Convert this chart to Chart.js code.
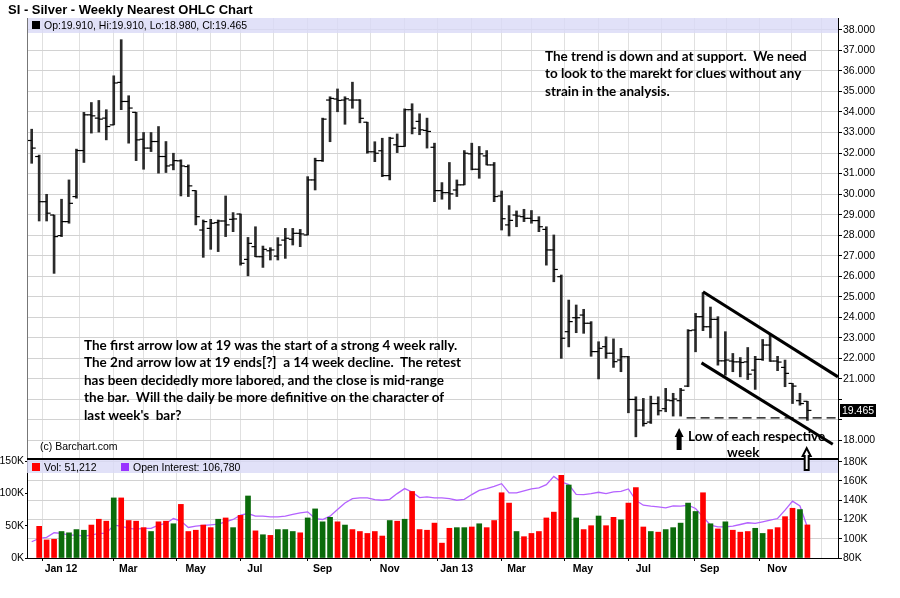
<!DOCTYPE html>
<html>
<head>
<meta charset="utf-8">
<title>SI - Silver - Weekly Nearest OHLC Chart</title>
<script src="https://cdn.jsdelivr.net/npm/chart.js@4.4.0/dist/chart.umd.min.js"></script>
<style>
  body { margin: 0; background: #fff; width: 900px; height: 598px; overflow: hidden; position: relative;
         font-family: "Liberation Sans", Arial, sans-serif; color: #000; }
  canvas { position: absolute; left: 0; top: 0; }
  #priceChart { z-index: 2; }
  #volChart { z-index: 1; }
  .t { position: absolute; z-index: 3; white-space: pre; }
  .small { font-size: 10.5px; line-height: 12px; }
  .note { font-family: Lato, "Open Sans", sans-serif; font-weight: bold; font-size: 13.5px; line-height: 17.4px; }
  .sq { position: absolute; z-index: 3; width: 8px; height: 8px; }
</style>
</head>
<body>
<canvas id="volChart" width="900" height="598"></canvas>
<canvas id="priceChart" width="900" height="598"></canvas>

<div class="t" style="left:8px; top:2px; font-weight:bold; font-size:13px;">SI - Silver - Weekly Nearest OHLC Chart</div>
<div class="sq" style="left:32px; top:21px; background:#000;"></div>
<div class="t small" style="left:44px; top:19px;">Op:19.910, Hi:19.910, Lo:18.980, Cl:19.465</div>

<div class="t note" style="left:545px; top:48px;">The trend is down and at support.  We need
to look to the marekt for clues without any
strain in the analysis.</div>

<div class="t note" style="left:84px; top:337px;">The first arrow low at 19 was the start of a strong 4 week rally.
The 2nd arrow low at 19 ends[?]  a 14 week decline.  The retest
has been decidedly more labored, and the close is mid-range
the bar.  Will the daily be more definitive on the character of
last week's  bar?</div>

<div class="t small" style="left:40px; top:440px;">(c) Barchart.com</div>

<div class="t note" style="left:688px; top:428px;">Low of each respective</div>
<div class="t note" style="left:727px; top:444px;">week</div>

<div class="sq" style="left:32px; top:463px; background:#ff0000;"></div>
<div class="t small" style="left:44px; top:461px;">Vol: 51,212</div>
<div class="sq" style="left:121px; top:463px; background:#9933ff;"></div>
<div class="t small" style="left:133px; top:461px;">Open Interest: 106,780</div>

<script>
// weekly bars, Dec 2011 .. Nov 2013 (one value per week)
const opens = [
  32.61, 31.83, 29.63, 28.98, 27.98, 28.66, 29.88, 32.12, 33.86, 33.70,
  33.70, 33.37, 35.44, 34.51, 33.98, 32.67, 32.24, 32.56, 31.83, 31.42,
  31.62, 31.34, 30.17, 28.25, 28.33, 28.61, 28.69, 28.77, 29.03, 26.82,
  27.44, 26.95, 27.24, 26.98, 27.76, 27.80, 28.09, 28.01, 30.69, 31.63,
  34.58, 34.63, 34.58, 34.58, 34.58, 33.50, 32.06, 32.11, 30.90, 32.40,
  32.32, 34.11, 33.54, 33.10, 32.28, 30.17, 30.07, 30.20, 30.45, 31.96,
  31.21, 31.86, 31.42, 29.91, 28.50, 28.98, 28.90, 28.82, 28.71, 28.28,
  27.28, 25.98, 23.30, 23.98, 24.11, 23.71, 22.33, 22.57, 22.25, 21.92,
  22.08, 20.00, 19.48, 18.90, 19.80, 19.55, 19.94, 19.94, 20.65, 23.38,
  24.03, 23.54, 23.90, 21.88, 21.87, 21.83, 21.83, 21.43, 21.95, 22.65,
  21.87, 21.56, 20.78, 19.94, 19.91
];
const highs = [
  33.16, 31.90, 29.99, 28.98, 29.75, 30.69, 32.19, 33.98, 34.46, 34.56,
  34.11, 35.76, 37.52, 34.79, 33.98, 33.00, 33.00, 33.29, 32.56, 31.99,
  31.67, 31.42, 30.17, 28.74, 28.77, 28.74, 29.91, 29.10, 29.03, 27.89,
  28.41, 27.47, 27.39, 27.88, 28.33, 28.33, 28.28, 30.85, 31.75, 33.70,
  34.74, 35.12, 34.74, 35.45, 34.60, 33.50, 32.55, 32.72, 32.77, 32.93,
  34.15, 34.40, 33.91, 33.70, 32.48, 30.56, 31.54, 30.69, 32.12, 32.48,
  32.32, 32.12, 31.54, 30.15, 29.44, 29.18, 29.26, 29.20, 28.90, 28.41,
  28.01, 26.06, 24.84, 24.60, 24.39, 23.79, 22.81, 23.05, 22.95, 22.49,
  22.10, 20.13, 20.05, 20.16, 20.13, 20.54, 20.30, 20.54, 23.40, 24.19,
  25.20, 24.50, 24.03, 23.30, 22.24, 22.04, 22.53, 22.10, 22.92, 23.13,
  22.10, 21.92, 20.78, 20.30, 19.91
];
const lows = [
  31.50, 28.69, 28.69, 26.14, 27.93, 28.58, 29.80, 31.54, 32.97, 33.02,
  32.64, 33.37, 34.11, 32.48, 31.63, 31.21, 32.07, 31.02, 31.05, 31.18,
  29.91, 29.88, 28.50, 26.92, 27.31, 27.20, 27.93, 28.17, 26.54, 26.02,
  26.95, 26.43, 26.79, 26.79, 26.87, 27.52, 27.44, 28.01, 30.20, 31.59,
  32.55, 34.01, 33.40, 34.18, 33.47, 31.99, 31.58, 30.85, 30.69, 32.02,
  32.32, 32.93, 32.89, 32.24, 29.63, 29.75, 29.26, 29.88, 30.45, 31.18,
  30.77, 31.42, 29.63, 28.25, 27.96, 28.41, 28.66, 28.58, 28.17, 26.54,
  25.73, 22.00, 22.56, 23.25, 23.22, 22.10, 21.00, 22.00, 21.56, 21.35,
  19.35, 18.18, 18.70, 18.83, 19.24, 19.40, 19.19, 19.19, 20.62, 22.32,
  23.35, 23.00, 21.67, 21.18, 21.35, 21.10, 20.97, 20.49, 21.90, 21.85,
  21.40, 20.62, 19.80, 19.72, 18.98
];
const closes = [
  32.24, 29.63, 29.07, 27.93, 28.66, 29.55, 32.12, 33.86, 33.81, 33.65,
  33.29, 35.41, 34.51, 34.19, 32.64, 32.24, 32.56, 31.83, 31.37, 31.63,
  31.37, 30.40, 28.90, 28.66, 28.58, 28.69, 28.50, 28.79, 26.63, 27.60,
  26.95, 27.31, 27.28, 27.52, 27.85, 28.09, 28.06, 30.69, 31.63, 33.65,
  34.66, 34.56, 34.64, 34.58, 33.69, 32.06, 31.99, 30.90, 32.72, 32.32,
  34.11, 33.21, 33.13, 33.05, 30.17, 30.07, 30.01, 30.45, 31.99, 31.21,
  31.96, 31.42, 29.88, 28.80, 28.72, 28.93, 28.82, 28.71, 28.41, 27.28,
  26.33, 22.98, 23.79, 23.98, 23.71, 22.33, 22.49, 22.25, 21.84, 22.08,
  20.00, 19.48, 18.83, 19.80, 19.45, 19.97, 20.02, 20.45, 23.35, 24.03,
  23.54, 23.90, 21.88, 21.92, 21.83, 21.80, 21.23, 21.95, 22.65, 21.87,
  21.82, 21.27, 20.65, 19.80, 19.465
];
// volume (thousands), first week has none
const volume = [
  null, 49, 28, 29, 41, 39, 44, 43, 51, 60,
  57, 93, 93, 58, 57, 47, 41, 56, 57, 53,
  83, 41, 43, 51, 47, 60, 62, 47, 66, 96,
  42, 36, 35, 44, 44, 41, 39, 62, 76, 56,
  63, 56, 51, 44, 41, 38, 41, 34, 58, 57,
  60, 103, 44, 43, 54, 23, 46, 47, 47, 48,
  53, 47, 58, 101, 85, 41, 33, 38, 41, 62,
  71, 128, 113, 62, 44, 50, 65, 50, 63, 59,
  85, 109, 48, 41, 40, 44, 47, 54, 85, 72,
  101, 53, 45, 56, 43, 40, 41, 46, 38, 44,
  47, 64, 77, 75, 51.2
];
// U = green volume bar, D = red volume bar
const volDir = (
  '-DDDUUUUDD' + 'DUDDDDUDDU' + 'DDDDDUDUDU' + 'DUDUUUDUUU' + 'UDUDDDDDUD' +
  'UDDDDDDUUD' + 'UDDDDUDDDD' + 'DDUUDDUDDU' + 'DDDUDUUUUU' + 'DUDUDDDUUD' +
  'DDDUD'
).split('');
// open interest (thousands)
const openInterest = [
  96.9, 100.3, 101.4, 106.2, 105.5, 103.8, 103.8, 102.8, 103.8, 105.5,
  105.5, 114.1, 113.1, 110.7, 110.0, 110.7, 110.7, 114.1, 115.9, 121.0,
  118.3, 111.7, 113.1, 113.8, 114.5, 115.2, 117.6, 120.0, 124.5, 126.2,
  123.4, 123.4, 122.8, 122.8, 123.6, 125.2, 126.9, 127.9, 121.0, 120.0,
  123.4, 130.3, 137.2, 141.7, 142.4, 142.4, 140.7, 140.0, 141.0, 146.9,
  152.1, 148.6, 142.8, 143.4, 142.4, 142.4, 141.7, 140.0, 141.0, 145.9,
  150.3, 152.1, 154.5, 157.2, 147.6, 147.6, 149.7, 151.7, 152.8, 156.2,
  164.8, 159.0, 156.2, 146.0, 145.9, 146.9, 148.3, 146.9, 148.6, 149.3,
  151.7, 140.0, 134.8, 133.8, 133.1, 132.1, 134.1, 133.8, 134.8, 131.4,
  122.8, 114.1, 112.4, 112.4, 113.1, 114.8, 116.6, 115.9, 117.6, 119.3,
  121.0, 129.7, 139.0, 134.1, 112.0
];

// month starts, in week numbers, and their labels
const monthWeeks = [3.93, 8.93, 12.95, 16.97, 21.98, 26.0, 29.93, 34.85, 39.0, 42.9, 48.0, 51.96,
                    56.97, 61.0, 65.0, 69.0, 73.9, 77.96, 82.0, 86.9, 90.9, 95.3, 99.95, 103.9];
const monthLabels = ['Jan 12', '', 'Mar', '', 'May', '', 'Jul', '', 'Sep', '', 'Nov', '',
                     'Jan 13', '', 'Mar', '', 'May', '', 'Jul', '', 'Sep', '', 'Nov', ''];
const priceTicks = [18, 19, 20, 21, 22, 23, 24, 25, 26, 27, 28, 29, 30, 31, 32, 33, 34, 35, 36, 37, 38];
const volTicks = [0, 50, 100, 150];
const oiTicks = [80, 100, 120, 140, 160, 180];

// drawn lines: [week, price] pairs
const upperTrend = [[90.0, 25.24], [108.1, 21.10]];
const lowerTrend = [[89.8, 21.78], [107.4, 17.82]];
const supportLine = [[87.8, 19.10], [108.1, 19.10]];
const arrowMarks = [
  { week: 86.8, tip: 18.61, filled: true },
  { week: 103.9, tip: 17.63, filled: false }
];

const lastClose = closes[closes.length - 1];
const xMin = -0.63, xMax = 108.1;

Chart.defaults.color = '#000';
Chart.defaults.font.family = '"Liberation Sans", Arial, sans-serif';
Chart.defaults.font.size = 10.5;

const toXY = pts => pts.map(p => ({ x: p[0], y: p[1] }));

function drawArrow(ctx, x, y, filled) {
  const h = filled ? 9 : 8, hw = filled ? 4.5 : 4, sw = filled ? 2.5 : 2, len = 22;
  ctx.beginPath();
  ctx.moveTo(x, y);
  ctx.lineTo(x + hw, y + h);
  ctx.lineTo(x + sw, y + h);
  ctx.lineTo(x + sw, y + len);
  ctx.lineTo(x - sw, y + len);
  ctx.lineTo(x - sw, y + h);
  ctx.lineTo(x - hw, y + h);
  ctx.closePath();
  if (filled) {
    ctx.fillStyle = '#000';
    ctx.fill();
  } else {
    ctx.fillStyle = '#fff';
    ctx.fill();
    ctx.lineWidth = 2;
    ctx.strokeStyle = '#000';
    ctx.stroke();
  }
}

const pricePanel = {
  id: 'pricePanel',
  beforeDatasetsDraw(chart) {
    const { ctx, chartArea: a } = chart;
    ctx.save();
    ctx.fillStyle = 'rgba(218, 218, 246, 0.8)';
    ctx.fillRect(a.left, a.top, a.right - a.left, 15);
    ctx.restore();
  },
  afterDraw(chart) {
    const { ctx, chartArea: a, scales } = chart;
    ctx.save();
    ctx.strokeStyle = '#777';
    ctx.lineWidth = 1;
    ctx.beginPath();
    ctx.moveTo(a.left + 0.5, a.top);
    ctx.lineTo(a.left + 0.5, a.bottom);
    ctx.stroke();
    ctx.strokeStyle = '#000';
    ctx.lineWidth = 2;
    ctx.beginPath();
    ctx.moveTo(a.left, a.bottom);
    ctx.lineTo(a.right, a.bottom);
    ctx.stroke();

    // last price box
    const y = Math.round(scales.y.getPixelForValue(lastClose));
    ctx.fillStyle = '#000';
    ctx.fillRect(a.right + 2, y - 6, 36, 13);
    ctx.fillStyle = '#fff';
    ctx.font = '10.5px "Liberation Sans", Arial, sans-serif';
    ctx.textBaseline = 'middle';
    ctx.fillText(lastClose.toFixed(3), a.right + 4, y + 1);

    arrowMarks.forEach(m => {
      drawArrow(ctx, scales.x.getPixelForValue(m.week), scales.y.getPixelForValue(m.tip), m.filled);
    });
    ctx.restore();
  }
};

new Chart(document.getElementById('priceChart'), {
  type: 'bar',
  data: {
    datasets: [
      {
        type: 'bar',
        data: lows.map((lo, i) => ({ x: i, y: [lo, highs[i]] })),
        backgroundColor: '#2a2a2a',
        barThickness: 2,
        order: 3
      },
      {
        type: 'line',
        data: opens.map((v, i) => ({ x: i, y: v })),
        showLine: false,
        pointStyle: 'dash',
        pointRotation: 180,
        pointRadius: 4,
        pointBorderColor: '#000',
        pointBorderWidth: 1.2,
        order: 2
      },
      {
        type: 'line',
        data: closes.map((v, i) => ({ x: i, y: v })),
        showLine: false,
        pointStyle: 'dash',
        pointRotation: 0,
        pointRadius: 4,
        pointBorderColor: '#000',
        pointBorderWidth: 1.2,
        order: 2
      },
      {
        type: 'line',
        data: toXY(supportLine),
        borderColor: '#000',
        borderWidth: 1.2,
        borderDash: [9, 5],
        pointRadius: 0,
        order: 1
      },
      {
        type: 'line',
        data: toXY(upperTrend),
        borderColor: '#000',
        borderWidth: 3,
        pointRadius: 0,
        order: 1
      },
      {
        type: 'line',
        data: toXY(lowerTrend),
        borderColor: '#000',
        borderWidth: 3,
        pointRadius: 0,
        order: 1
      }
    ]
  },
  options: {
    responsive: false,
    animation: false,
    layout: { padding: { left: 27, top: 18, right: 0, bottom: 139 } },
    plugins: { legend: { display: false }, tooltip: { enabled: false } },
    scales: {
      x: {
        type: 'linear',
        min: xMin,
        max: xMax,
        offset: false,
        afterBuildTicks: s => { s.ticks = monthWeeks.map(v => ({ value: v })); },
        afterFit: s => { s.height = 0; },
        ticks: { display: false },
        grid: { color: '#e0e0e0', drawTicks: false },
        border: { display: false }
      },
      y: {
        position: 'right',
        min: 17.1,
        max: 38.575,
        afterBuildTicks: s => { s.ticks = priceTicks.map(v => ({ value: v })); },
        afterFit: s => { s.width = 62; },
        ticks: {
          padding: 1,
          callback: v => Math.abs(v - lastClose) < 0.6 ? '' : v.toFixed(3)
        },
        grid: { color: '#d2d2d2', tickColor: '#000', tickLength: 4 },
        border: { color: '#000' }
      }
    }
  },
  plugins: [pricePanel]
});

const volPanel = {
  id: 'volPanel',
  beforeDatasetsDraw(chart) {
    const { ctx, chartArea: a } = chart;
    ctx.save();
    ctx.fillStyle = 'rgba(218, 218, 246, 0.8)';
    ctx.fillRect(a.left, a.top, a.right - a.left, 13);
    ctx.restore();
  }
};

new Chart(document.getElementById('volChart'), {
  type: 'bar',
  data: {
    datasets: [
      {
        type: 'line',
        data: openInterest.map((v, i) => ({ x: i, y: v })),
        yAxisID: 'oi',
        borderColor: '#b462ff',
        borderWidth: 1.3,
        pointRadius: 0,
        order: 2
      },
      {
        type: 'bar',
        data: volume.map((v, i) => ({ x: i, y: v })),
        yAxisID: 'vol',
        backgroundColor: volDir.map(d => d === 'U' ? '#0b6b0b' : '#ff0000'),
        barThickness: 5,
        order: 1
      }
    ]
  },
  options: {
    responsive: false,
    animation: false,
    layout: { padding: { left: 0, top: 460, right: 0, bottom: 0 } },
    plugins: { legend: { display: false }, tooltip: { enabled: false } },
    scales: {
      x: {
        type: 'linear',
        min: xMin,
        max: xMax,
        offset: false,
        afterBuildTicks: s => { s.ticks = monthWeeks.map(v => ({ value: v })); },
        afterFit: s => { s.height = 40; },
        ticks: {
          autoSkip: false,
          maxRotation: 0,
          padding: 2,
          font: { weight: 'bold', size: 10.5 },
          callback: (v, i) => monthLabels[i]
        },
        grid: {
          color: '#e0e0e0',
          tickLength: 3,
          tickColor: c => monthLabels[c.index] ? '#000' : 'rgba(0,0,0,0)'
        },
        border: { color: '#000' }
      },
      vol: {
        position: 'left',
        min: 0,
        max: 151.7,
        afterBuildTicks: s => { s.ticks = volTicks.map(v => ({ value: v })); },
        afterFit: s => { s.width = 27; },
        ticks: { padding: 1, callback: v => v + 'K' },
        grid: { drawOnChartArea: false, tickLength: 2, tickColor: '#000' },
        border: { color: '#000' }
      },
      oi: {
        position: 'right',
        min: 80,
        max: 181.8,
        afterBuildTicks: s => { s.ticks = oiTicks.map(v => ({ value: v })); },
        afterFit: s => { s.width = 62; },
        ticks: { padding: 1, callback: v => v + 'K' },
        grid: { color: '#d2d2d2', tickColor: '#000', tickLength: 4 },
        border: { color: '#000' }
      }
    }
  },
  plugins: [volPanel]
});
</script>
</body>
</html>
